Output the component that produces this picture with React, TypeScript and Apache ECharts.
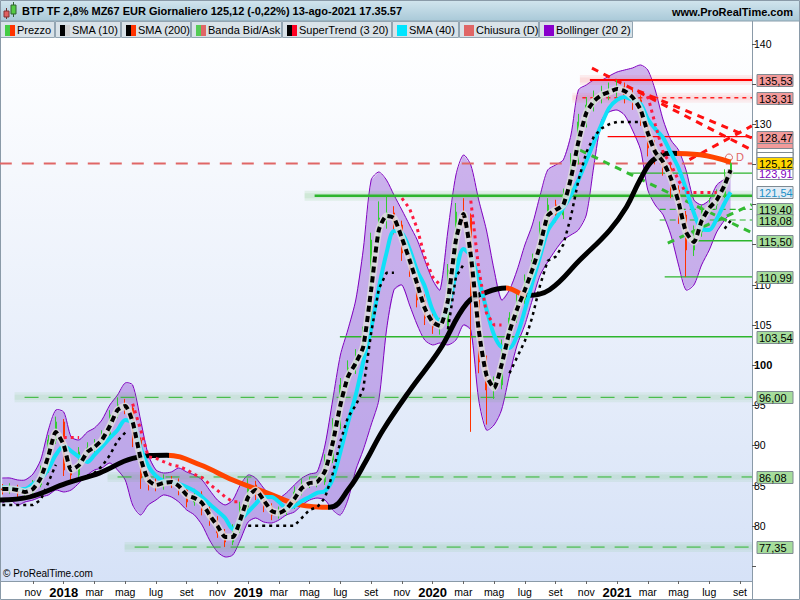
import React, { useEffect, useRef } from "react";
import * as echarts from "echarts";

const FONT = '"Liberation Sans", Arial, sans-serif';
const MONTHS = ["gen", "feb", "mar", "apr", "mag", "giu", "lug", "ago", "set", "ott", "nov", "dic"];

// ---- half-month sampling dates (1st and 16th of every month), Sep 2017 -> 13 Aug 2021
const priceDates: string[] = [];
{
  let y = 2017;
  let mo = 9;
  while (y < 2021 || (y === 2021 && mo <= 7)) {
    const mm = String(mo).padStart(2, "0");
    priceDates.push(`${y}-${mm}-01`, `${y}-${mm}-16`);
    mo++;
    if (mo === 13) { mo = 1; y++; }
  }
  priceDates.push("2021-08-01", "2021-08-13");
}

const priceFirstOpen = 84.6;
const priceClose = [
  84.46, 84.71, 84.09, 84.21, 85.08, 86.95, 90.69, 92.93, 86.95, 86.33,
  89.19, 89.69, 90.06, 91.31, 93.8, 95.05, 94.67, 90.69, 85.95, 85.21,
  84.96, 85.71, 85.33, 84.46, 82.97, 83.84, 81.97, 80.72, 79.11, 77.99,
  79.48, 82.34, 85.08, 83.84, 82.34, 81.35, 81.72, 82.47, 84.21, 85.21,
  85.46, 85.46, 88.2, 92.56, 97.54, 99.65, 100.9, 103.76, 115.59, 118.33,
  118.96, 117.46, 113.97, 112.11, 108.12, 105.88, 104.76, 104.88, 111.86, 119.08,
  118.33, 108.12, 100.4, 96.91, 97.54, 102.52, 105.88, 108.12, 110.61, 113.1,
  117.09, 119.95, 118.71, 121.2, 125.56, 130.29, 132.4, 133.28, 133.9, 134.27,
  134.65, 133.65, 133.03, 130.54, 127.05, 125.93, 124.56, 121.82, 118.71, 114.35,
  116.59, 119.33, 119.95, 121.2, 123.69, 125.12,
];
const priceHigh = [
  85.2, 85.3, 85.1, 84.8, 85.7, 87.5, 91.3, 93.6, 93.3, 87.6,
  89.8, 90.4, 90.8, 91.9, 94.4, 96.0, 95.8, 95.0, 91.0, 86.6,
  85.9, 86.4, 86.2, 85.9, 85.0, 84.6, 84.3, 82.5, 81.2, 79.6,
  80.2, 83.0, 85.9, 85.6, 84.2, 82.8, 82.4, 83.1, 84.9, 85.9,
  86.1, 86.2, 88.9, 93.4, 98.4, 100.6, 102.0, 104.8, 116.5, 120.4,
  121.0, 119.8, 118.0, 114.6, 112.6, 108.8, 106.6, 105.9, 112.6, 120.2,
  120.8, 118.9, 108.7, 101.2, 98.6, 103.2, 106.6, 108.9, 111.3, 113.9,
  117.9, 120.8, 120.6, 122.0, 126.4, 131.3, 133.4, 134.2, 134.8, 135.2,
  135.53, 135.2, 134.6, 133.6, 131.2, 128.0, 126.8, 125.2, 122.4, 119.2,
  117.4, 120.0, 120.8, 121.9, 124.4, 125.6,
];
const priceLow = [
  83.9, 84.0, 83.5, 83.6, 83.8, 84.8, 86.6, 90.2, 86.2, 85.6,
  86.0, 88.6, 89.0, 89.6, 91.0, 93.4, 93.9, 89.8, 84.6, 84.4,
  84.3, 84.5, 84.7, 83.8, 82.3, 82.5, 81.3, 80.0, 78.5, 77.35,
  77.6, 79.1, 82.0, 83.2, 81.7, 80.7, 80.9, 81.3, 82.1, 83.8,
  84.7, 84.8, 85.1, 87.8, 92.0, 97.0, 98.9, 100.3, 103.2, 114.8,
  117.0, 116.3, 113.0, 111.0, 107.2, 105.0, 103.9, 103.8, 104.4, 111.3,
  117.2, 91.7, 99.0, 92.6, 95.8, 97.0, 102.0, 105.3, 107.6, 110.0,
  112.6, 116.6, 117.8, 118.2, 120.7, 125.0, 129.6, 131.6, 132.6, 133.0,
  133.4, 132.6, 131.8, 129.8, 126.0, 125.0, 123.6, 120.8, 117.6, 110.99,
  113.6, 116.0, 118.9, 119.4, 120.8, 123.3,
];
const sma10 = [
  84.59, 84.59, 84.46, 84.21, 84.59, 85.95, 88.69, 91.68, 90.06, 86.95,
  87.57, 89.19, 89.81, 90.69, 92.43, 94.42, 94.92, 92.93, 88.44, 85.71,
  85.08, 85.33, 85.46, 84.96, 83.84, 83.46, 82.84, 81.35, 79.98, 78.61,
  78.61, 80.72, 83.59, 84.46, 83.21, 81.84, 81.6, 82.09, 83.34, 84.71,
  85.33, 85.46, 86.83, 90.31, 95.05, 98.53, 100.27, 102.27, 109.37, 116.84,
  118.58, 118.33, 115.84, 113.1, 110.11, 107.12, 105.38, 104.88, 108.12, 115.59,
  118.83, 113.72, 104.39, 98.78, 97.16, 100.03, 104.14, 107.0, 109.37, 111.86,
  114.97, 118.58, 119.33, 119.95, 123.31, 127.8, 131.41, 132.9, 133.65, 134.02,
  134.4, 134.15, 133.4, 131.78, 128.92, 126.55, 125.31, 123.31, 120.32, 116.59,
  115.34, 117.96, 119.58, 120.57, 122.44, 124.31,
];
const sma40 = [
  84.83, 84.71, 84.59, 84.59, 85.21, 85.83, 87.08, 88.82, 89.94, 89.31,
  88.57, 87.95, 88.82, 89.81, 90.94, 91.93, 93.18, 92.8, 89.69, 87.45,
  86.2, 85.58, 85.46, 85.21, 84.83, 84.34, 83.59, 82.72, 81.84, 80.97,
  79.6, 80.72, 81.72, 82.72, 83.59, 83.59, 82.97, 82.22, 82.47, 83.09,
  83.59, 84.09, 84.34, 85.83, 89.19, 92.8, 96.29, 100.4, 104.63, 109.61,
  113.97, 116.71, 116.46, 114.47, 111.73, 109.86, 106.87, 105.51, 107.12, 111.48,
  114.47, 113.6, 110.61, 107.0, 103.76, 102.27, 102.14, 103.76, 106.87, 110.24,
  113.6, 116.71, 118.21, 119.58, 121.2, 123.06, 125.43, 127.8, 130.04, 132.03,
  133.03, 133.4, 133.03, 132.53, 130.66, 129.42, 128.3, 126.43, 124.56, 121.94,
  118.96, 116.96, 116.84, 118.21, 120.2, 121.54,
];
const bbUpper = [
  85.95, 85.95, 85.71, 85.71, 86.45, 88.2, 91.93, 94.42, 94.17, 91.06,
  90.69, 91.68, 92.18, 93.18, 95.05, 96.29, 97.79, 97.54, 93.18, 88.82,
  86.95, 86.58, 86.7, 87.2, 86.7, 86.33, 85.71, 84.46, 83.21, 82.59,
  83.21, 85.08, 86.33, 85.95, 84.71, 83.59, 83.46, 84.09, 85.08, 85.95,
  86.45, 86.7, 90.06, 95.67, 101.27, 104.39, 108.12, 114.35, 123.06, 124.06,
  123.06, 121.2, 119.33, 117.46, 115.59, 113.1, 110.61, 109.37, 116.84, 123.69,
  126.18, 124.93, 120.57, 116.84, 111.86, 108.12, 109.37, 111.86, 114.97, 117.46,
  121.2, 124.31, 124.93, 125.56, 128.67, 134.27, 134.9, 135.52, 135.52, 136.01,
  136.51, 136.76, 137.01, 137.39, 136.76, 134.27, 130.54, 128.05, 126.8, 124.31,
  120.57, 119.95, 120.57, 122.44, 123.2, 123.91,
];
const bbLower = [
  82.84, 83.21, 82.59, 82.97, 83.21, 83.59, 83.84, 84.46, 84.21, 84.46,
  85.33, 86.33, 86.95, 87.2, 87.82, 86.95, 85.71, 82.59, 81.35, 82.59,
  83.21, 83.84, 83.59, 82.97, 81.97, 81.35, 80.1, 78.23, 76.74, 76.12,
  76.37, 78.23, 80.48, 80.97, 80.48, 80.35, 80.72, 81.35, 81.72, 82.59,
  83.21, 83.46, 83.21, 81.97, 81.35, 83.21, 86.95, 89.44, 92.56, 95.67,
  104.39, 109.37, 109.99, 107.5, 105.01, 103.14, 102.52, 102.77, 102.52, 103.14,
  105.01, 104.39, 95.67, 91.93, 92.56, 94.42, 98.78, 102.52, 105.01, 108.12,
  111.23, 112.85, 114.35, 115.59, 116.22, 116.84, 118.71, 124.93, 130.54, 131.53,
  131.78, 131.16, 129.29, 126.8, 121.82, 119.95, 118.71, 116.22, 112.48, 109.37,
  109.99, 112.48, 114.35, 116.59, 118.08, 118.96,
];
const N = null;
const superTrendDown = [
  N, N, N, N, N, N, N, N, 91.0, 91.0,
  91.0, N, N, N, N, N, N, 95.2, 92.0, 88.6,
  88.4, 88.0, 87.6, 87.4, 87.0, 86.4, 86.0, 85.2, 84.4, 83.6,
  83.0, 83.0, N, N, N, N, N, N, N, N,
  N, N, N, N, N, N, N, N, N, N,
  N, N, 120.8, 119.5, 117.0, 113.5, 111.0, 110.0, N, N,
  N, 120.5, 112.0, 106.5, 105.0, 105.0, N, N, N, N,
  N, N, N, N, N, N, N, N, N, N,
  N, N, N, N, 133.5, 130.0, 126.5, 125.0, 123.0, 121.5,
  121.5, 121.5, 121.5, 121.5, N, N,
];
const superTrendUp = [
  82.6, 82.6, 82.6, 82.6, 82.6, 83.2, 85.4, 87.6, N, N,
  N, 86.2, 86.6, 87.4, 88.8, 90.6, 91.6, N, N, N,
  N, N, N, N, N, N, N, N, N, N,
  N, N, 80.0, 80.0, 80.0, 80.0, 80.0, 80.0, 80.0, 81.0,
  82.0, 82.3, 83.5, 86.5, 90.5, 93.5, 95.0, 97.0, 104.0, 109.5,
  111.5, 111.5, N, N, N, N, N, N, 104.5, 111.0,
  112.5, N, N, N, N, N, 99.0, 101.0, 103.0, 106.0,
  110.0, 113.0, 113.5, 115.0, 118.5, 123.0, 126.5, 128.5, 129.5, 130.0,
  130.3, 130.3, 130.3, 130.3, N, N, N, N, N, N,
  N, N, N, N, 117.0, 118.0,
];

// SMA 200
const sma200Dates = [
  "2017-08-27", "2017-10-25", "2018-01-07", "2018-03-12", "2018-05-16", "2018-07-23", "2018-09-27",
  "2018-12-01", "2019-02-07", "2019-04-12", "2019-06-10", "2019-07-19", "2019-08-21", "2019-09-24",
  "2019-11-17", "2020-01-15", "2020-03-08", "2020-04-17", "2020-05-26", "2020-07-05", "2020-08-20",
  "2020-10-19", "2020-12-17", "2021-01-20", "2021-02-15", "2021-03-11", "2021-04-14", "2021-06-13",
  "2021-08-13",
];
const sma200Values = [
  83.2, 83.6, 85.3, 86.6, 88.4, 88.8, 87.6, 85.7, 84.1, 82.6, 82.3, 84.7, 88.0, 91.9, 96.9,
  101.9, 107.7, 109.1, 109.6, 108.7, 109.4, 113.1, 116.8, 119.7, 123.1, 125.5, 126.4, 126.2, 125.3,
];
// periods when price is below the SMA 200 (drawn red)
const sma200BelowPeriods = [
  ["2018-07-28", "2019-06-07"],
  ["2020-05-25", "2020-07-04"],
  ["2021-04-28", "2021-09-30"],
];

// horizontal levels
const levelValues = [135.53, 133.31, 128.47, 125.12, 123.91, 121.1, 119.4, 118.08, 115.5, 110.99, 103.54, 96.0, 86.08, 77.35];
const levelFrom = [
  "2020-11-08", "2020-10-24", "2020-12-13", "2017-08-27", "2021-01-26", "2019-05-11", "2021-03-25",
  "2021-03-25", "2021-05-23", "2021-04-04", "2019-06-30", "2017-10-15", "2018-04-16", "2018-05-20",
];
const levelKinds = [
  "redThick", "redDash", "red", "close", "green", "greenThick", "greenDash",
  "greenDash", "green", "green", "green", "greenGlow", "greenGlow", "greenGlow",
];

// trend lines: [date, value]
const trendFrom: [string, number][] = [
  ["2020-11-12", 137.0], ["2021-02-10", 134.2], ["2021-05-23", 125.6], ["2020-10-19", 126.8], ["2021-04-10", 115.2],
];
const trendTo: [string, number][] = [
  ["2021-09-24", 126.8], ["2021-09-24", 128.3], ["2021-09-24", 129.8], ["2021-09-24", 116.5], ["2021-09-24", 120.0],
];
const trendKinds = ["red", "red", "red", "green", "green"];

// right-axis value boxes (boxes without text are hidden beneath neighbours, as in the source)
const boxValues = [135.53, 133.31, 128.47, 126.95, 126.35, 125.75, 123.91, 121.54, 119.4, 118.08, 115.5, 110.99, 103.54, 96.0, 86.08, 77.35, 125.12];
const boxKinds = ["red", "red", "red", "redHidden", "white", "white", "purple", "blue", "green", "green", "green", "green", "green", "green", "green", "green", "gold"];

const yTickValues = [75, 80, 85, 90, 95, 100, 105, 110, 115, 120, 125, 130, 135, 140];
const yLabelValues = [80, 85, 90, 95, 100, 105, 110, 130, 140];
const xLabelMonths = [10, 12, 14, 16, 18, 20, 22, 24, 26, 28, 30, 32, 34, 36, 38, 40, 42, 44, 46, 48, 50, 52, 54, 56];

const legendLabels = ["Prezzo", "SMA (10)", "SMA (200)", "Banda Bid/Ask", "SuperTrend (3 20)", "SMA (40)", "Chiusura (D)", "Bollinger (20 2)"];

// ---- layout / style (not data)
const X_MIN = 7.853;
const X_MAX = 56.78;
const Y_MIN = 73.125;
const Y_MAX = 140.747;

function toM(d: string): number {
  const [y, mo, da] = d.split("-").map(Number);
  const dim = new Date(y, mo, 0).getDate();
  return (y - 2017) * 12 + (mo - 1) + (da - 1) / dim;
}

const levelStyle: Record<string, any> = {
  redThick: { color: "#ff0000", width: 2, glow: "rgba(255,90,90,0.10)" },
  redDash: { color: "#ff2020", width: 1.5, dash: [4, 4], glow: "rgba(255,90,90,0.09)" },
  red: { color: "#ff0000", width: 1.2 },
  close: { color: "#e06666", width: 2, dash: [12, 10] },
  green: { color: "#2db52d", width: 1.3 },
  greenThick: { color: "#2db52d", width: 2.5, glow: "rgba(60,180,60,0.10)" },
  greenDash: { color: "#2db52d", width: 1.2, dash: [6, 4] },
  greenGlow: { color: "#2db52d", width: 1, dash: [14, 10], glow: "rgba(60,180,60,0.08)" },
};
const trendStyle: Record<string, any> = {
  red: { color: "#ff1010", width: 3, dash: [7, 6] },
  green: { color: "#33bb33", width: 3, dash: [7, 6] },
};
const boxStyle: Record<string, any> = {
  red: { bg: "#f29a9a", fg: "#000", text: true },
  redHidden: { bg: "#f29a9a", fg: "#000", text: false },
  white: { bg: "#ffffff", fg: "#000", text: false },
  purple: { bg: "#ffffff", fg: "#8000c0", text: true },
  blue: { bg: "#e2ecf5", fg: "#1a90c8", text: true },
  green: { bg: "#a6dd9c", fg: "#000", text: true },
  gold: { bg: "#ffd700", fg: "#000", text: true },
};
const legendIconColors = [
  ["#44cc44", "#ff3300"], ["#000000", "#d0d0d0"], ["#000000", "#ff3300"], ["#55cc55", "#e06666"],
  ["#000000", "#ff0022"], ["#00e5ff", "#00e5ff"], ["#e06666", "#e06666"], ["#8800cc", "#8800cc"],
];
const legendBounds = [0, 55, 121, 191, 282, 392, 459, 539, 633];

function buildOption(): any {
  const xs = priceDates.map(toM);
  const pair = (vals: (number | null)[]) => xs.map((x, i) => [x, vals[i]]);

  const candles = xs.map((x, i) => [x, i === 0 ? priceFirstOpen : priceClose[i - 1], priceClose[i], priceLow[i], priceHigh[i]]);

  const belowPieces: any[] = [];
  let prev = X_MIN - 1;
  sma200BelowPeriods.forEach(([a, b]) => {
    belowPieces.push({ gte: prev, lt: toM(a), color: "#000000" });
    belowPieces.push({ gte: toM(a), lt: toM(b), color: "#ff4400" });
    prev = toM(b);
  });
  belowPieces.push({ gte: prev, color: "#000000" });

  const bbRender = (_p: any, api: any) => {
    const up = xs.map((x, i) => api.coord([x, bbUpper[i]]));
    const lo = xs.map((x, i) => api.coord([x, bbLower[i]]));
    return {
      type: "group",
      children: [
        { type: "polygon", shape: { points: [...up, ...lo.slice().reverse()] }, style: { fill: "rgba(140,70,210,0.40)", stroke: "none" } },
        { type: "polyline", shape: { points: up, smooth: 0.25 }, style: { stroke: "#8000c0", lineWidth: 1, fill: "none" } },
        { type: "polyline", shape: { points: lo, smooth: 0.25 }, style: { stroke: "#8000c0", lineWidth: 1, fill: "none" } },
      ],
    };
  };

  const levelRender = (_p: any, api: any) => {
    const children: any[] = [];
    levelValues.forEach((v, i) => {
      const st = levelStyle[levelKinds[i]];
      const a = api.coord([toM(levelFrom[i]), v]);
      const b = api.coord([X_MAX, v]);
      if (st.glow) {
        children.push({ type: "line", shape: { x1: a[0] - 10, y1: a[1], x2: b[0], y2: b[1] }, style: { stroke: st.glow, lineWidth: 10 } });
        children.push({ type: "line", shape: { x1: a[0] - 10, y1: a[1], x2: b[0], y2: b[1] }, style: { stroke: st.glow, lineWidth: 5 } });
      }
      children.push({
        type: "line", shape: { x1: a[0], y1: a[1], x2: b[0], y2: b[1] },
        style: { stroke: st.color, lineWidth: st.width, lineDash: st.dash || null },
      });
      if (levelKinds[i] === "close") {
        children.push({ type: "circle", shape: { cx: b[0] - 23, cy: b[1] - 6, r: 3.5 }, style: { fill: "none", stroke: st.color, lineWidth: 1 } });
        children.push({ type: "text", x: b[0] - 16, y: b[1] - 12, style: { text: "D", fill: st.color, font: `11px ${FONT}` } });
      }
    });
    trendFrom.forEach((f, i) => {
      const st = trendStyle[trendKinds[i]];
      const a = api.coord([toM(f[0]), f[1]]);
      const b = api.coord([toM(trendTo[i][0]), trendTo[i][1]]);
      children.push({
        type: "line", shape: { x1: a[0], y1: a[1], x2: b[0], y2: b[1] },
        style: { stroke: st.color, lineWidth: st.width, lineDash: st.dash },
      });
    });
    return { type: "group", children };
  };

  const boxRender = (_p: any, api: any) => {
    const children: any[] = [];
    boxValues.forEach((v, i) => {
      const s = boxStyle[boxKinds[i]];
      const p = api.coord([X_MAX, v]);
      const x = p[0] + 5;
      const y = Math.round(p[1] - 6) + 0.5;
      children.push({ type: "rect", shape: { x, y, width: 36, height: 12 }, style: { fill: s.bg, stroke: "#7f8a92", lineWidth: 1 } });
      if (s.text) {
        children.push({ type: "text", x: x + 2, y: y + 1, style: { text: v.toFixed(2).replace(".", ","), fill: s.fg, font: `11px ${FONT}` } });
      }
    });
    return { type: "group", children };
  };

  const graphics: any[] = [];
  graphics.push({
    type: "rect", shape: { x: 0, y: 0, width: 800, height: 21 },
    style: { fill: new echarts.graphic.LinearGradient(0, 0, 0, 1, [{ offset: 0, color: "#d2e5ee" }, { offset: 1, color: "#a9c9d8" }]) },
  });
  graphics.push({ type: "line", shape: { x1: 0, y1: 21, x2: 800, y2: 21 }, style: { stroke: "#8a9eab", lineWidth: 1 } });
  graphics.push({ type: "line", shape: { x1: 6.5, y1: 8, x2: 6.5, y2: 19 }, style: { stroke: "#703030", lineWidth: 1 } });
  graphics.push({ type: "rect", shape: { x: 4, y: 11, width: 5, height: 6 }, style: { fill: "#e06060", stroke: "#803030", lineWidth: 1 } });
  graphics.push({ type: "line", shape: { x1: 13.5, y1: 2, x2: 13.5, y2: 17 }, style: { stroke: "#306030", lineWidth: 1 } });
  graphics.push({ type: "rect", shape: { x: 11, y: 5, width: 5, height: 9 }, style: { fill: "#55cc44", stroke: "#306030", lineWidth: 1 } });
  graphics.push({
    type: "text", x: 22, y: 11,
    style: { text: "BTP TF 2,8% MZ67 EUR Giornaliero 125,12 (-0,22%) 13-ago-2021 17.35.57", font: `bold 11px ${FONT}`, fill: "#000", textVerticalAlign: "middle", verticalAlign: "middle" },
  });
  graphics.push({
    type: "text", x: 793, y: 12,
    style: { text: "www.ProRealTime.com", font: `bold 11px ${FONT}`, fill: "#000", textAlign: "right", align: "right", textVerticalAlign: "middle", verticalAlign: "middle" },
  });
  legendLabels.forEach((lab, i) => {
    const x0 = legendBounds[i];
    const x1 = legendBounds[i + 1];
    graphics.push({ type: "rect", shape: { x: x0 + 0.5, y: 21.5, width: x1 - x0 - 1, height: 16 }, style: { fill: "#d9e2e8", stroke: "#93a5b2", lineWidth: 1 } });
    const ix = x0 + 5;
    graphics.push({ type: "rect", shape: { x: ix, y: 25, width: 5, height: 11 }, style: { fill: legendIconColors[i][0] } });
    graphics.push({ type: "rect", shape: { x: ix + 5, y: 25, width: 5, height: 11 }, style: { fill: legendIconColors[i][1] } });
    graphics.push({
      type: "text", x: ix + 12, y: 30,
      style: { text: lab, font: `11px ${FONT}`, fill: "#000", textVerticalAlign: "middle", verticalAlign: "middle" },
    });
  });
  graphics.push({ type: "line", shape: { x1: 752.5, y1: 21, x2: 752.5, y2: 600 }, style: { stroke: "#8a9aa8", lineWidth: 1 } });
  graphics.push({
    type: "text", x: 3, y: 573, z: 100,
    style: { text: "\u00A9 ProRealTime.com", font: `10px ${FONT}`, fill: "#000", textVerticalAlign: "middle", verticalAlign: "middle" },
  });
  graphics.push({ type: "rect", shape: { x: 0.5, y: 0.5, width: 799, height: 599 }, style: { fill: "none", stroke: "#8a9aa8", lineWidth: 1 } });

  return {
    animation: false,
    backgroundColor: "#ffffff",
    textStyle: { fontFamily: FONT },
    graphic: { elements: graphics },
    grid: {
      left: 0, right: 48, top: 38, bottom: 19, show: true, borderWidth: 0,
      backgroundColor: new echarts.graphic.LinearGradient(0, 0, 0, 1, [{ offset: 0, color: "#ffffff" }, { offset: 1, color: "#d6e2f7" }]),
    },
    xAxis: {
      type: "value", min: X_MIN, max: X_MAX,
      splitLine: { show: false },
      axisLine: { show: true, lineStyle: { color: "#8a9aa8" } },
      axisTick: { show: true, customValues: xLabelMonths, length: 3, lineStyle: { color: "#666" } },
      axisLabel: {
        customValues: xLabelMonths, margin: 5, fontSize: 10.5, color: "#000", fontFamily: FONT,
        formatter: (v: number) => {
          const k = Math.round(v);
          if (k % 12 === 0) return `{y|${2017 + k / 12}}`;
          return MONTHS[k % 12];
        },
        rich: { y: { fontWeight: "bold", fontSize: 13, fontFamily: FONT, color: "#000" } },
      },
    },
    yAxis: {
      type: "value", position: "right", min: Y_MIN, max: Y_MAX,
      splitLine: { show: false },
      axisLine: { show: true, lineStyle: { color: "#8a9aa8" } },
      axisTick: { show: true, customValues: yTickValues, length: 4, lineStyle: { color: "#555" } },
      axisLabel: {
        customValues: yLabelValues, margin: 2, fontSize: 10.5, color: "#000", fontFamily: FONT,
        formatter: (v: number) => (v === 100 ? `{b|100}` : String(v)),
        rich: { b: { fontWeight: "bold", fontSize: 11, fontFamily: FONT, color: "#000" } },
      },
    },
    visualMap: [{ type: "piecewise", show: false, dimension: 0, seriesIndex: 3, pieces: belowPieces }],
    series: [
      { name: "Bollinger (20 2)", type: "custom", data: [[X_MIN, Y_MIN]], renderItem: bbRender, clip: true, z: 1, silent: true },
      { name: "levels", type: "custom", data: [[X_MIN, Y_MIN]], renderItem: levelRender, clip: true, z: 2, silent: true },
      {
        name: "Prezzo", type: "candlestick", data: candles, encode: { x: 0, y: [1, 2, 3, 4] }, barWidth: 1.5, z: 3,
        itemStyle: { color: "#33cc33", color0: "#ff3300", borderColor: "#33cc33", borderColor0: "#ff3300", borderWidth: 1 },
      },
      {
        name: "SMA (200)", type: "line", data: sma200Dates.map((d, i) => [toM(d), sma200Values[i]]), symbol: "none", smooth: 0.4, z: 4,
        lineStyle: { width: 5 },
      },
      {
        name: "SMA (40)", type: "line", data: pair(sma40), symbol: "none", smooth: 0.3, z: 5,
        lineStyle: { color: "#10e0f8", width: 4 },
      },
      {
        name: "sma10bg", type: "line", data: pair(sma10), symbol: "none", smooth: 0.2, z: 6,
        lineStyle: { color: "#dcdcdc", width: 7, opacity: 0.85 },
      },
      {
        name: "SMA (10)", type: "line", data: pair(sma10), symbol: "none", smooth: 0.2, z: 6,
        lineStyle: { color: "#000000", width: 4, type: [6, 4] },
      },
      {
        name: "stDown", type: "line", data: pair(superTrendDown), symbol: "none", z: 7,
        lineStyle: { color: "#ff1a40", width: 3, type: [3, 4] },
      },
      {
        name: "stUp", type: "line", data: pair(superTrendUp), symbol: "none", z: 7,
        lineStyle: { color: "#000000", width: 2.5, type: [3, 4] },
      },
      { name: "boxes", type: "custom", data: [[X_MIN, Y_MIN]], renderItem: boxRender, clip: false, z: 10, silent: true },
    ],
  };
}

export default function App() {
  const ref = useRef<HTMLDivElement>(null);
  useEffect(() => {
    if (!ref.current) return;
    const chart = echarts.init(ref.current, undefined, { renderer: "svg" });
    chart.setOption(buildOption());
    return () => chart.dispose();
  }, []);
  return <div ref={ref} style={{ position: "fixed", left: 0, top: 0, width: 800, height: 600 }} />;
}
